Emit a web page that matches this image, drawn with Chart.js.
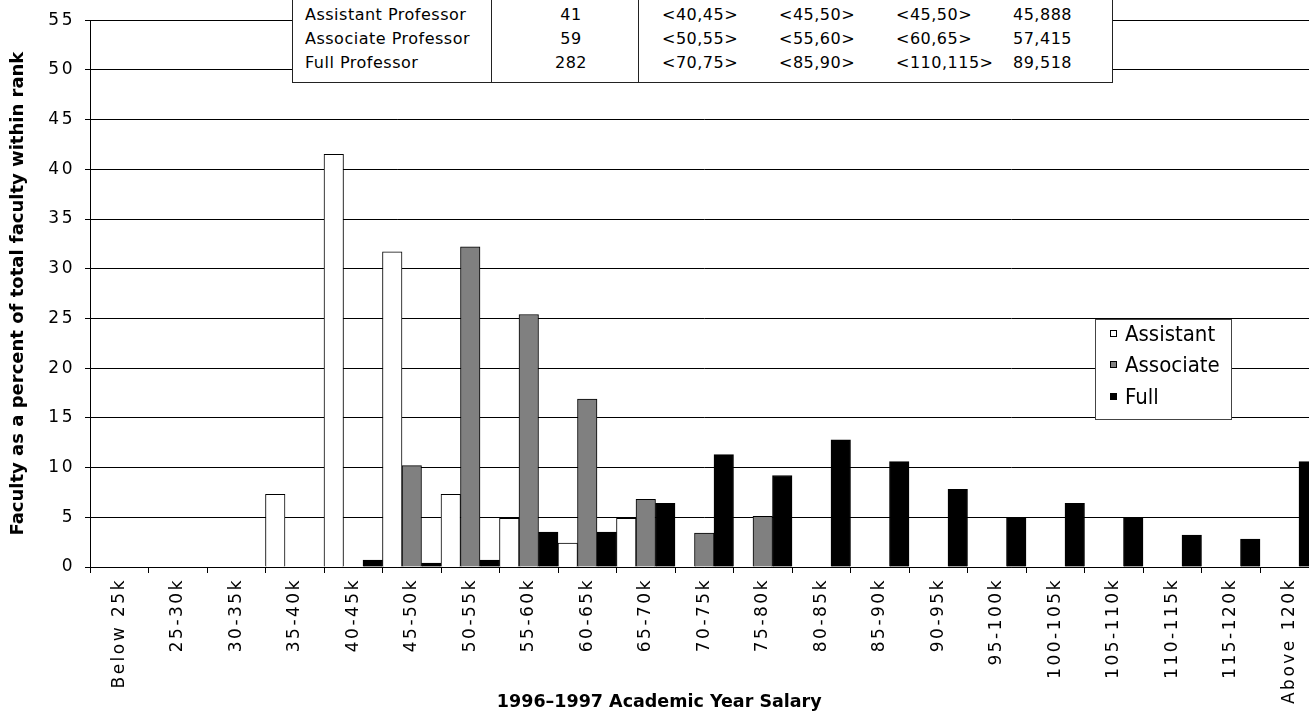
<!DOCTYPE html>
<html>
<head>
<meta charset="utf-8">
<title>Faculty salary distribution by rank, 1996–1997</title>
<script src="https://cdn.jsdelivr.net/npm/chart.js@4.4.1/dist/chart.umd.min.js"></script>
<style>
  html, body { margin: 0; padding: 0; background: #fff; }
  body { position: relative; width: 1309px; height: 713px; overflow: hidden; }
  #salaryChart { position: absolute; left: 0; top: 0; }

  #summary {
    position: absolute; left: 292px; top: -30px; width: 821px; height: 113px;
    box-sizing: border-box; border: 1px solid #222; background: #fff;
    font: 16px "DejaVu Sans", sans-serif; letter-spacing: 0.5px; color: #000;
  }
  #summary .rule { position: absolute; top: 0; bottom: 0; width: 1px; background: #222; }
  #summary .cell { position: absolute; line-height: 24px; white-space: nowrap; }

  #key {
    position: absolute; left: 1095px; top: 319px; width: 137px; height: 101px;
    box-sizing: border-box; border: 1px solid #444; background: #fff;
    font: 22px "DejaVu Sans Condensed", "Liberation Sans", sans-serif; color: #000;
  }
  #key .item { position: absolute; left: 14px; height: 30px; display: flex; align-items: center; white-space: nowrap; }
  #key .swatch { width: 7px; height: 7px; box-sizing: border-box; border: 1px solid #000; margin-right: 8px; }
</style>
</head>
<body>
<canvas id="salaryChart" width="1332" height="713"></canvas>
<div id="summary"></div>
<div id="key"></div>

<script>
// salary bands on the x axis
const salaryBands = [
  "Below 25k", "25-30k", "30-35k", "35-40k", "40-45k", "45-50k", "50-55k",
  "55-60k", "60-65k", "65-70k", "70-75k", "75-80k", "80-85k", "85-90k",
  "90-95k", "95-100k", "100-105k", "105-110k", "110-115k", "115-120k", "Above 120k"
];

// percent of faculty in each band, by rank
const assistantPct = [0, 0, 0, 7.3, 41.5, 31.7, 7.3, 4.9, 2.4, 4.9, 0, 0, 0, 0, 0, 0, 0, 0, 0, 0, 0];
const associatePct = [0, 0, 0, 0, 0, 10.2, 32.2, 25.4, 16.9, 6.8, 3.4, 5.1, 0, 0, 0, 0, 0, 0, 0, 0, 0];
const fullPct = [0, 0, 0, 0, 0.7, 0.4, 0.7, 3.5, 3.5, 6.4, 11.3, 9.2, 12.8, 10.6, 7.8, 5.0, 6.4, 5.0, 3.2, 2.8, 10.6];

const yTicks = [0, 5, 10, 15, 20, 25, 30, 35, 40, 45, 50, 55];

// summary table rows
const rankNames = ["Assistant Professor", "Associate Professor", "Full Professor"];
const rankCounts = ["41", "59", "282"];
const bandA = ["<40,45>", "<50,55>", "<70,75>"];
const bandB = ["<45,50>", "<55,60>", "<85,90>"];
const bandC = ["<45,50>", "<60,65>", "<110,115>"];
const meanSalary = ["45,888", "57,415", "89,518"];

const seriesNames = ["Assistant", "Associate", "Full"];
const seriesColors = ["#ffffff", "#808080", "#000000"];

const fontFamily = "'DejaVu Sans', sans-serif";

// tick labels get extra letter spacing (titles do not), and the long
// rotated x labels may run past the bottom of the scale box
const spacedTicks = {
  id: "spacedTicks",
  beforeDraw(chart) {
    for (const scale of Object.values(chart.scales)) {
      if (scale.$spaced) continue;
      const drawLabels = scale.drawLabels;
      scale._computeLabelArea = () => undefined;
      scale.drawLabels = function (area) {
        const ctx = this.ctx;
        ctx.save();
        ctx.letterSpacing = "2.5px";
        drawLabels.call(this, area);
        ctx.restore();
      };
      scale.$spaced = true;
    }
  }
};

const ctx = document.getElementById("salaryChart").getContext("2d");

const chart = new Chart(ctx, {
  type: "bar",
  data: {
    labels: salaryBands,
    datasets: [assistantPct, associatePct, fullPct].map((values, i) => ({
      label: seriesNames[i],
      data: values,
      backgroundColor: seriesColors[i],
      borderColor: "#000",
      borderWidth: 1,
      barPercentage: 1,
      categoryPercentage: 1
    }))
  },
  options: {
    responsive: false,
    animation: false,
    devicePixelRatio: 1,
    layout: { padding: { top: 19, left: 0, right: 13.5, bottom: 0 } },
    plugins: {
      legend: { display: false },
      tooltip: { enabled: false },
      title: {
        display: true,
        position: "bottom",
        text: "1996–1997 Academic Year Salary",
        color: "#000",
        font: { family: fontFamily, size: 17.5, weight: "bold" },
        padding: { top: 1, bottom: 0 }
      }
    },
    scales: {
      x: {
        grid: { drawOnChartArea: false, drawTicks: true, tickLength: 6, color: "#000", offset: true },
        border: { display: true, color: "#000" },
        ticks: {
          color: "#000",
          font: { family: fontFamily, size: 17 },
          minRotation: 90,
          maxRotation: 90,
          autoSkip: false,
          padding: 5
        },
        afterFit(scale) { scale.height = 124; }
      },
      y: {
        min: 0,
        max: 55,
        afterBuildTicks(scale) { scale.ticks = yTicks.map(v => ({ value: v })); },
        grid: { color: "#000", tickLength: 5 },
        border: { display: true, color: "#000" },
        ticks: { color: "#000", font: { family: fontFamily, size: 17 }, padding: 10 },
        title: {
          display: true,
          text: "Faculty as a percent of total faculty within rank",
          color: "#000",
          font: { family: fontFamily, size: 18, weight: "bold" },
          padding: { top: 8, bottom: 0 }
        },
        afterFit(scale) { scale.width = 90; }
      }
    }
  },
  plugins: [spacedTicks]
});

// summary table above the plot
const summary = document.getElementById("summary");
const addCell = (text, left, top, width, align) => {
  const el = document.createElement("div");
  el.className = "cell";
  el.textContent = text;
  el.style.left = left + "px";
  el.style.top = top + "px";
  if (width) { el.style.width = width + "px"; el.style.textAlign = align; }
  summary.appendChild(el);
};
[198, 345].forEach(x => {
  const rule = document.createElement("div");
  rule.className = "rule";
  rule.style.left = x + "px";
  summary.appendChild(rule);
});
rankNames.forEach((name, r) => {
  const top = 31.5 + r * 24;
  addCell(name, 12, top);
  addCell(rankCounts[r], 238, top, 80, "center");
  addCell(bandA[r], 369, top);
  addCell(bandB[r], 486, top);
  addCell(bandC[r], 603, top);
  addCell(meanSalary[r], 720, top);
});

// legend box built from the chart's datasets
const key = document.getElementById("key");
chart.data.datasets.forEach((ds, i) => {
  const item = document.createElement("div");
  item.className = "item";
  item.style.top = (i * 31.5 - 2) + "px";
  const sw = document.createElement("span");
  sw.className = "swatch";
  sw.style.background = ds.backgroundColor;
  const label = document.createElement("span");
  label.textContent = ds.label;
  item.appendChild(sw);
  item.appendChild(label);
  key.appendChild(item);
});
</script>
</body>
</html>
